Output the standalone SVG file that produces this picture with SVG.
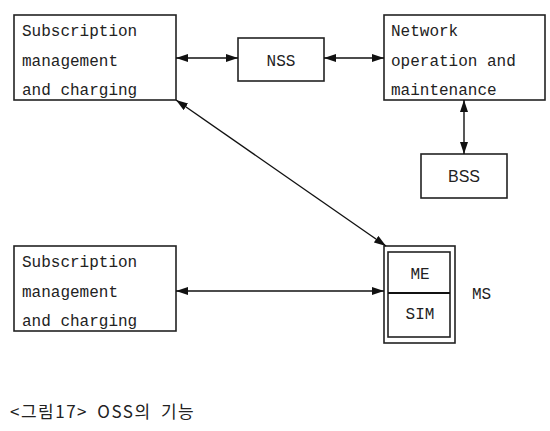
<svg xmlns="http://www.w3.org/2000/svg" width="550" height="431" viewBox="0 0 550 431">
<defs>
<marker id="ah" viewBox="0 0 12 8" refX="12" refY="4" markerWidth="12" markerHeight="8" markerUnits="userSpaceOnUse" orient="auto-start-reverse">
<path d="M0,0 L12,4 L0,8 Z" fill="#111"/>
</marker>
<style>
.box{fill:#fff;stroke:#222;stroke-width:1.6}
.t{font-family:"Liberation Mono","DejaVu Sans Mono",monospace;font-size:16px;fill:#222}
.c{text-anchor:middle}
.ln{stroke:#111;stroke-width:1.4;fill:none}
</style>
</defs>
<rect width="550" height="431" fill="#fff"/>
<g id="sub1">
<rect class="box" x="14" y="15" width="162" height="85"/>
<text class="t" x="22" y="36">Subscription</text>
<text class="t" x="22" y="66">management</text>
<text class="t" x="22" y="95">and charging</text>
</g>
<g id="nss">
<rect class="box" x="238" y="38" width="86" height="43"/>
<text class="t c" x="281" y="66">NSS</text>
</g>
<g id="netop">
<rect class="box" x="384" y="15" width="161" height="85"/>
<text class="t" x="391" y="36">Network</text>
<text class="t" x="391" y="66">operation and</text>
<text class="t" x="391" y="95">maintenance</text>
</g>
<g id="bss">
<rect class="box" x="421" y="154" width="86" height="44"/>
<text class="t c" x="464" y="182" style="font-family:'Liberation Sans',Arial,sans-serif">BSS</text>
</g>
<g id="sub2">
<rect class="box" x="14" y="246" width="162" height="85"/>
<text class="t" x="22" y="267">Subscription</text>
<text class="t" x="22" y="297">management</text>
<text class="t" x="22" y="326">and charging</text>
</g>
<g id="ms">
<rect class="box" x="384" y="246" width="71" height="97"/>
<rect class="box" x="388" y="252" width="62" height="85"/>
<line class="ln" x1="388" y1="293" x2="450" y2="293" style="stroke-width:2"/>
<text class="t c" x="420" y="279">ME</text>
<text class="t c" x="420" y="319">SIM</text>
<text class="t" x="472" y="299">MS</text>
</g>
<g id="connectors">
<line class="ln" x1="176" y1="58" x2="238" y2="58" marker-start="url(#ah)" marker-end="url(#ah)"/>
<line class="ln" x1="324" y1="58" x2="384" y2="58" marker-start="url(#ah)" marker-end="url(#ah)"/>
<line class="ln" x1="464" y1="100" x2="464" y2="154" marker-start="url(#ah)" marker-end="url(#ah)"/>
<line class="ln" x1="176" y1="100" x2="386" y2="246" marker-start="url(#ah)" marker-end="url(#ah)"/>
<line class="ln" x1="176" y1="291" x2="384" y2="291" marker-start="url(#ah)" marker-end="url(#ah)"/>
</g>
<text x="10" y="418" style="font-family:'Noto Sans CJK KR',sans-serif;font-size:17px;letter-spacing:1.5px;word-spacing:4px;fill:#222">&lt;그림17&gt; OSS의 기능</text>
</svg>
